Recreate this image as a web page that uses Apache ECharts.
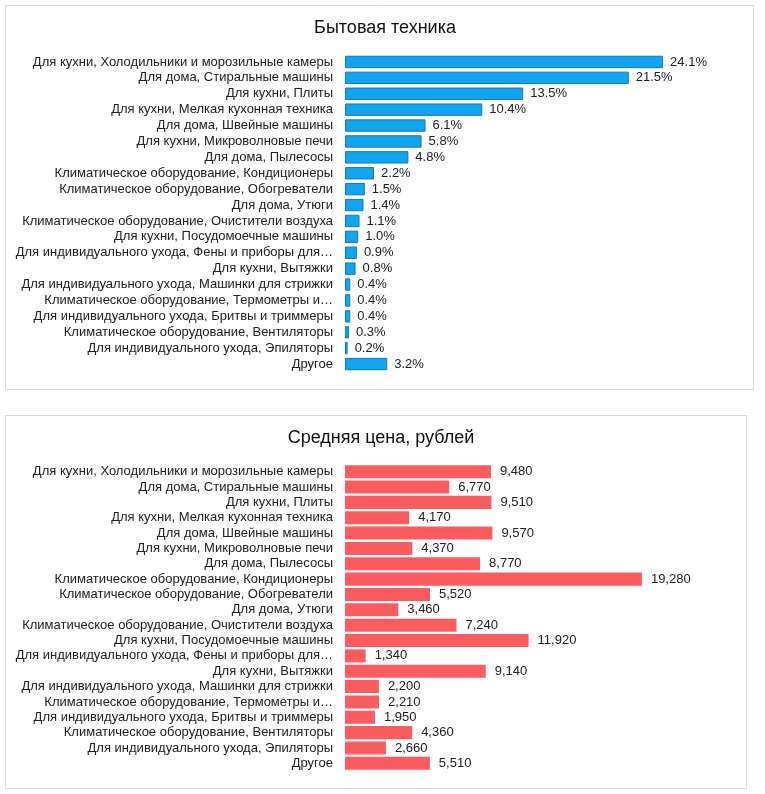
<!DOCTYPE html>
<html>
<head>
<meta charset="utf-8">
<script src="https://cdn.jsdelivr.net/npm/echarts@6/dist/echarts.min.js"></script>
<style>
html,body{margin:0;padding:0;background:#fff;}
#c{width:765px;height:794px;}
</style>
</head>
<body>
<div id="c"></div>
<script>
const categories = [
  "Для кухни, Холодильники и морозильные камеры",
  "Для дома, Стиральные машины",
  "Для кухни, Плиты",
  "Для кухни, Мелкая кухонная техника",
  "Для дома, Швейные машины",
  "Для кухни, Микроволновые печи",
  "Для дома, Пылесосы",
  "Климатическое оборудование, Кондиционеры",
  "Климатическое оборудование, Обогреватели",
  "Для дома, Утюги",
  "Климатическое оборудование, Очистители воздуха",
  "Для кухни, Посудомоечные машины",
  "Для индивидуального ухода, Фены и приборы для…",
  "Для кухни, Вытяжки",
  "Для индивидуального ухода, Машинки для стрижки",
  "Климатическое оборудование, Термометры и…",
  "Для индивидуального ухода, Бритвы и триммеры",
  "Климатическое оборудование, Вентиляторы",
  "Для индивидуального ухода, Эпиляторы",
  "Другое"
];
const shareValues = [24.1, 21.5, 13.5, 10.4, 6.1, 5.8, 4.8, 2.2, 1.5, 1.4, 1.1, 1.0, 0.9, 0.8, 0.4, 0.4, 0.4, 0.3, 0.2, 3.2];
const priceValues = [9480, 6770, 9510, 4170, 9570, 4370, 8770, 19280, 5520, 3460, 7240, 11920, 1340, 9140, 2200, 2210, 1950, 4360, 2660, 5510];
const titles = ["Бытовая техника", "Средняя цена, рублей"];

const FONT = '"Liberation Sans", Arial, sans-serif';
const chart = echarts.init(document.getElementById('c'));

function catAxis(gridIndex) {
  return {
    type: 'category', gridIndex, data: categories, inverse: true,
    axisLine: {show: false}, axisTick: {show: false},
    axisLabel: {color: '#222', fontSize: 13, fontFamily: FONT, margin: 12, interval: 0}
  };
}
function valAxis(gridIndex, max) {
  return {
    type: 'value', gridIndex, min: 0, max,
    show: false, splitLine: {show: false}
  };
}

chart.setOption({
  backgroundColor: '#fff',
  animation: false,
  title: [
    {text: titles[0], left: 380, textAlign: 'center', top: 14, textStyle: {fontSize: 18, fontWeight: 'normal', color: '#111', fontFamily: FONT}},
    {text: titles[1], left: 376, textAlign: 'center', top: 424, textStyle: {fontSize: 18, fontWeight: 'normal', color: '#111', fontFamily: FONT}}
  ],
  graphic: [
    {type: 'rect', shape: {x: 5.5, y: 5.5, width: 748, height: 384}, style: {fill: 'none', stroke: '#d9d9d9', lineWidth: 1}, silent: true},
    {type: 'rect', shape: {x: 5.5, y: 415.5, width: 741, height: 373}, style: {fill: 'none', stroke: '#d9d9d9', lineWidth: 1}, silent: true}
  ],
  grid: [
    {left: 345, top: 54, width: 396, height: 318, containLabel: false},
    {left: 345, top: 464, width: 385, height: 307, containLabel: false}
  ],
  xAxis: [valAxis(0, 30), valAxis(1, 25000)],
  yAxis: [catAxis(0), catAxis(1)],
  series: [
    {
      type: 'bar', xAxisIndex: 0, yAxisIndex: 0, data: shareValues,
      barCategoryGap: '22%',
      itemStyle: {color: '#12a5ef', borderColor: '#1a78b4', borderWidth: 1},
      label: {show: true, position: 'right', distance: 7, color: '#222', fontSize: 13, fontFamily: FONT,
        formatter: p => p.value.toFixed(1) + '%'}
    },
    {
      type: 'bar', xAxisIndex: 1, yAxisIndex: 1, data: priceValues,
      barCategoryGap: '15%',
      itemStyle: {color: '#fa5c60'},
      label: {show: true, position: 'right', distance: 9, color: '#222', fontSize: 13, fontFamily: FONT,
        formatter: p => p.value.toLocaleString('en-US')}
    }
  ]
});
</script>
</body>
</html>
